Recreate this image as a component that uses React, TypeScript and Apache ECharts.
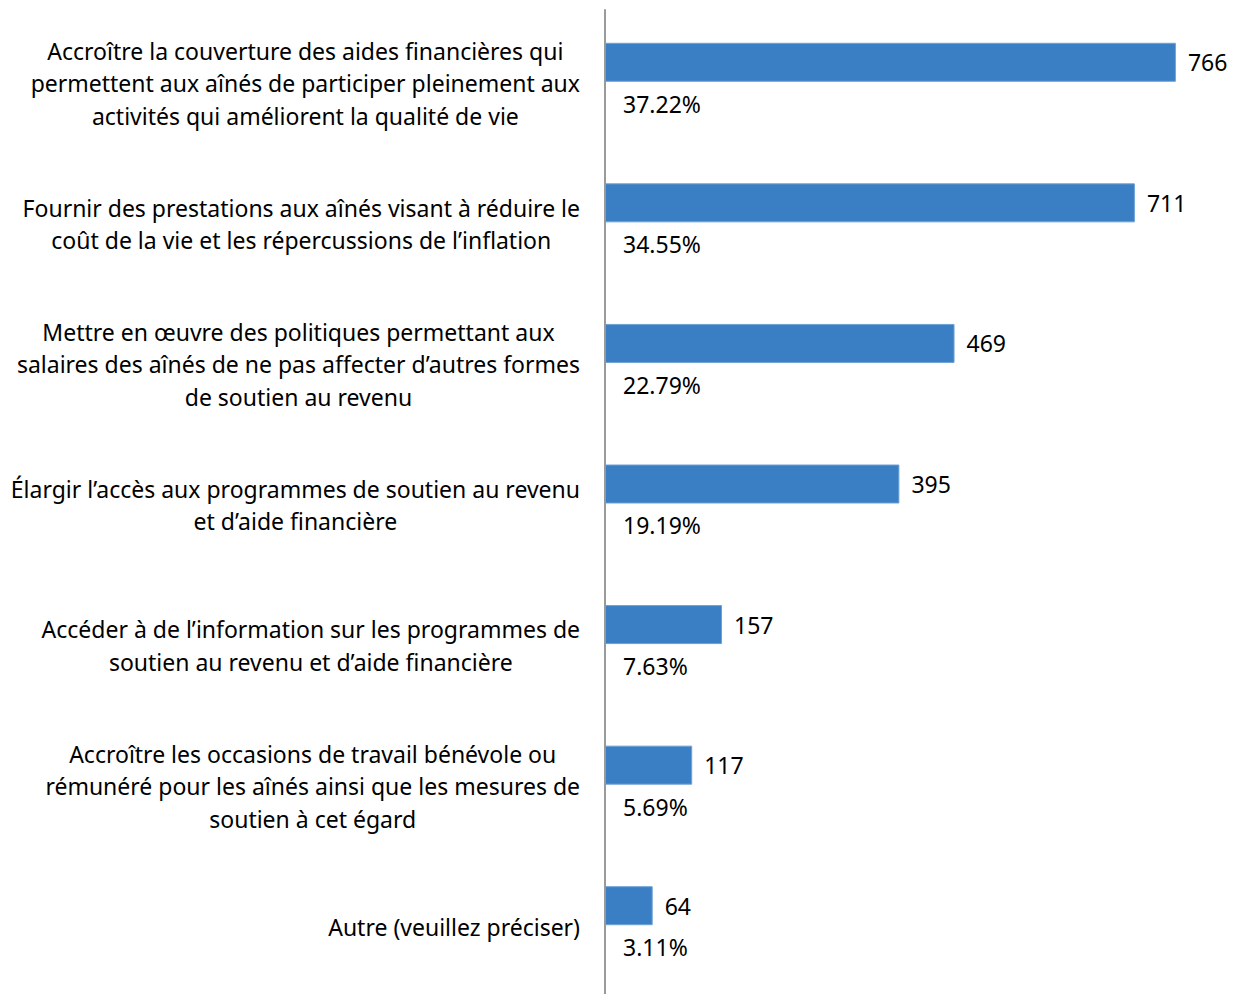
import React, { useEffect, useRef } from "react";
import * as echarts from "echarts";

const categories: string[] = [
  "Accroître la couverture des aides financières qui\npermettent aux aînés de participer pleinement aux\nactivités qui améliorent la qualité de vie",
  "Fournir des prestations aux aînés visant à réduire le\ncoût de la vie et les répercussions de l’inflation",
  "Mettre en œuvre des politiques permettant aux\nsalaires des aînés de ne pas affecter d’autres formes\nde soutien au revenu",
  "Élargir l’accès aux programmes de soutien au revenu\net d’aide financière",
  "Accéder à de l’information sur les programmes de\nsoutien au revenu et d’aide financière",
  "Accroître les occasions de travail bénévole ou\nrémunéré pour les aînés ainsi que les mesures de\nsoutien à cet égard",
  "Autre (veuillez préciser)",
];

const counts: number[] = [766, 711, 469, 395, 157, 117, 64];
const percents: string[] = ["37.22%", "34.55%", "22.79%", "19.19%", "7.63%", "5.69%", "3.11%"];

const FONT = "Noto Sans";

export default function App() {
  const ref = useRef<HTMLDivElement>(null);
  useEffect(() => {
    if (!ref.current) return;
    const chart = echarts.init(ref.current, null, { renderer: "svg" });
    chart.setOption({
      animation: false,
      grid: { left: 605, top: 10, width: 632, height: 987, containLabel: false },
      xAxis: {
        type: "value",
        min: 0,
        max: 848,
        show: false,
      },
      yAxis: {
        type: "category",
        inverse: true,
        data: categories,
        axisLine: { show: true, lineStyle: { color: "#9a9a9a", width: 2 } },
        axisTick: { show: false },
        splitLine: { show: false },
        axisLabel: {
          margin: 25,
          align: "right",
          formatter: (v: string) =>
            v
              .split("\n")
              .map((l) => "{c|" + l + "}")
              .join("\n"),
          rich: {
            c: {
              align: "center",
              fontFamily: FONT,
              fontSize: 23,
              lineHeight: 32.5,
              color: "#000",
              padding: [6, 0, 0, 0],
            },
          },
        },
      },
      series: [
        {
          type: "bar",
          data: counts,
          barWidth: 39,
          barGap: "-7.7%",
          itemStyle: { color: "#3a7ec3", borderColor: "#6ea1d6", borderWidth: 1 },
          label: {
            show: true,
            position: "right",
            distance: 12,
            fontFamily: FONT,
            fontSize: 23,
            color: "#000",
          },
        },
        {
          type: "bar",
          data: counts,
          barWidth: 39,
          itemStyle: { color: "rgba(0,0,0,0)" },
          silent: true,
          label: {
            show: true,
            position: [18, 25],
            verticalAlign: "middle",
            align: "left",
            fontFamily: FONT,
            fontSize: 23,
            color: "#000",
            formatter: (p: any) => percents[p.dataIndex],
          },
        },
      ],
    });
    return () => chart.dispose();
  }, []);
  return (
    <div
      ref={ref}
      style={{ position: "fixed", left: 0, top: 0, width: 1237, height: 994, background: "#fff" }}
    />
  );
}
